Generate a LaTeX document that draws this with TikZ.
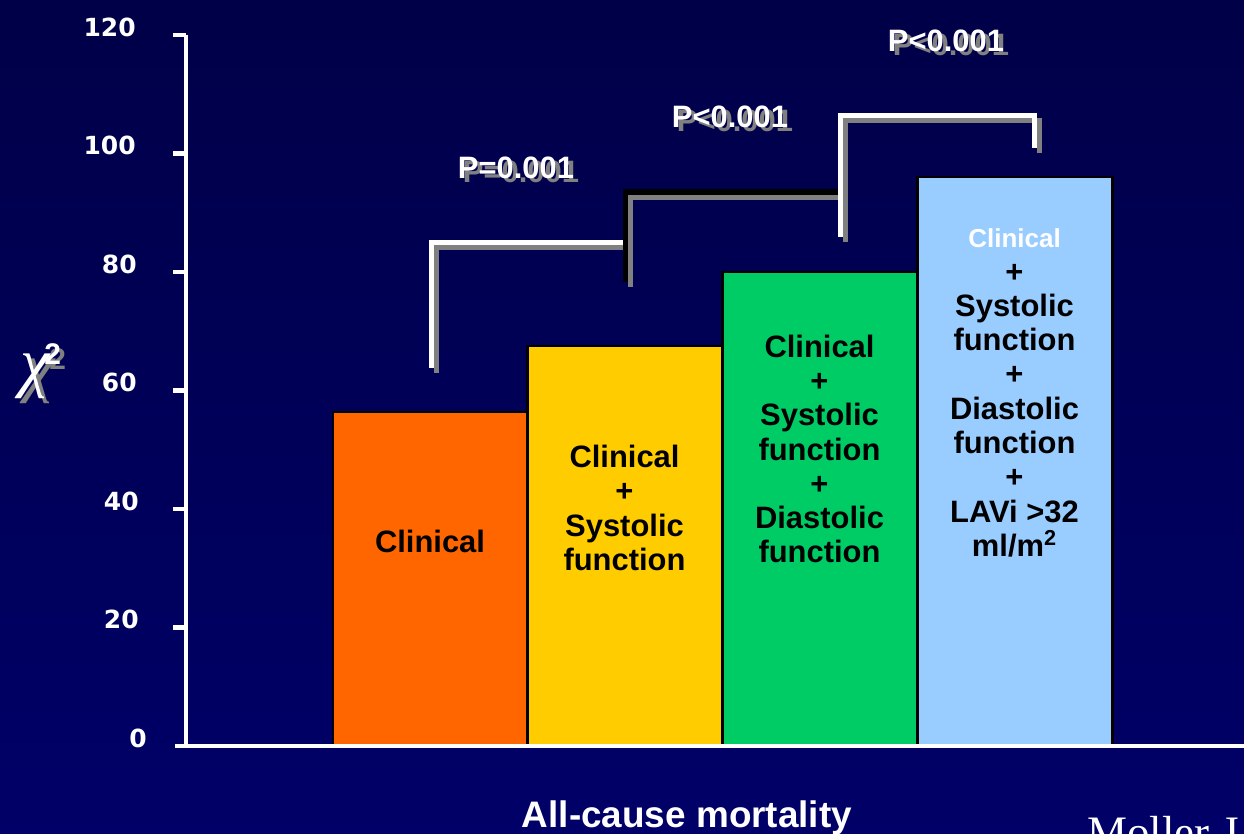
\documentclass[tikz,border=0pt]{standalone}
\usepackage{fontspec}
\setmainfont{Liberation Sans}
\newfontfamily\refont{Liberation Serif}
\newfontfamily\tickfont{DejaVu Sans}
\definecolor{bgtop}{RGB}{0,0,72}
\definecolor{bgbot}{RGB}{0,0,104}
\definecolor{clinfill}{RGB}{255,102,0}
\definecolor{sysfill}{RGB}{255,204,0}
\definecolor{diafill}{RGB}{0,204,102}
\definecolor{lavfill}{RGB}{153,204,255}
\definecolor{shadegray}{RGB}{128,128,128}
\tikzstyle{axis}=[white,line width=2.3pt]
\tikzstyle{bar}=[draw=black,line width=1.7pt]
\tikzstyle{ticklab}=[white,anchor=east,inner sep=0pt,font=\fontsize{14.2}{17}\selectfont\tickfont\bfseries]
\tikzstyle{bartext}=[align=center,inner sep=0pt,font=\fontsize{17.6}{19.5}\selectfont\bfseries]
\tikzstyle{plab}=[anchor=base,inner sep=0pt,font=\fontsize{17.6}{20}\selectfont\bfseries]
\tikzstyle{chilab}=[anchor=base west,inner sep=0pt,font=\fontsize{38}{44}\selectfont\refont\itshape]
\tikzstyle{brk}=[line width=2.85pt]
\tikzstyle{brkshadow}=[line width=2.85pt,shadegray,transform canvas={shift={(0.1cm,-0.1cm)}}]

\begin{document}
\begin{tikzpicture}[x=0.02cm,y=0.02cm]
\clip (0,0) rectangle (1244,833);
\shade[top color=bgtop,bottom color=bgbot] (0,0) rectangle (1244,833);
% bars
\filldraw[bar,fill=clinfill] (333,87) rectangle (527,421);
\filldraw[bar,fill=sysfill] (527,87) rectangle (722,487);
\filldraw[bar,fill=diafill] (722,87) rectangle (917,561);
\filldraw[bar,fill=lavfill] (917,87) rectangle (1112,656);
\node[bartext] (clin) at (430,292) {Clinical};
\node[bartext] (sys) at (624.5,325) {Clinical\\+\\Systolic\\function};
\node[bartext] (dia) at (819.5,384) {Clinical\\+\\Systolic\\function\\+\\Diastolic\\function};
\node[bartext] (lav) at (1014.5,440) {{\color{white}\fontsize{14.8}{19.5}\selectfont Clinical}\\+\\Systolic\\function\\+\\Diastolic\\function\\+\\LAVi >32\\ml/m\textsuperscript{2}};
% axes
\draw[axis] (186,798)--(186,87);\draw[axis] (175,87)--(1244,87);
\draw[axis] (173,798)--(186,798);\draw[axis] (173,679.5)--(186,679.5);\draw[axis] (173,561)--(186,561);
\draw[axis] (173,442.5)--(186,442.5);\draw[axis] (173,324)--(186,324);\draw[axis] (173,205.5)--(186,205.5);
\node[ticklab] (t120) at (136,806) {120};
\node[ticklab] (t100) at (136,687.5) {100};
\node[ticklab] (t80) at (137,569) {80};
\node[ticklab] (t60) at (137,450.5) {60};
\node[ticklab] (t40) at (139,332) {40};
\node[ticklab] (t20) at (139,213.5) {20};
\node[ticklab] (t0) at (147,95) {0};
\node[chilab,shadegray] (chis) at (25,444) {χ\kern-3pt\raisebox{0.29em}{\fontsize{17}{20}\selectfont\upshape\bfseries\rmfamily 2}};
\node[chilab,white] (chi) at (20,449) {χ\kern-3pt\raisebox{0.29em}{\fontsize{17}{20}\selectfont\upshape\bfseries\rmfamily 2}};
% brackets
\coordinate (c1) at (431,465);\coordinate (k1) at (625,590.5);
\coordinate (c2) at (625,551);\coordinate (k2) at (840.5,641);
\coordinate (c3) at (840.5,596);\coordinate (k3) at (1034.5,717.5);
\coordinate (c4) at (1034.5,685);
\draw[brkshadow] (c1) |- (k1) -- (c2);\draw[brk,white] (c1) |- (k1) -- (c2);
\draw[brkshadow] (c2) |- (k2) -- (c3);\draw[brk,black] (c2) |- (k2) -- (c3);
\draw[brkshadow] (c3) |- (k3) -- (c4);\draw[brk,white] (c3) |- (k3) -- (c4);
\node[plab,shadegray] (p1s) at (521,650) {P=0.001};\node[plab,white] (p1) at (516,654) {P=0.001};
\node[plab,shadegray] (p2s) at (735,701) {P<0.001};\node[plab,white] (p2) at (730,705) {P<0.001};
\node[plab,shadegray] (p3s) at (951,777) {P<0.001};\node[plab,white] (p3) at (946,781) {P<0.001};
\node[white,anchor=base,inner sep=0pt,font=\fontsize{21}{24}\selectfont\bfseries] (outcome) at (687,6) {All-cause mortality};
\node[white,anchor=base west,inner sep=0pt,font=\fontsize{25.6}{30}\selectfont\refont] (cite) at (1087,-14) {Moller J};
\end{tikzpicture}
\end{document}
